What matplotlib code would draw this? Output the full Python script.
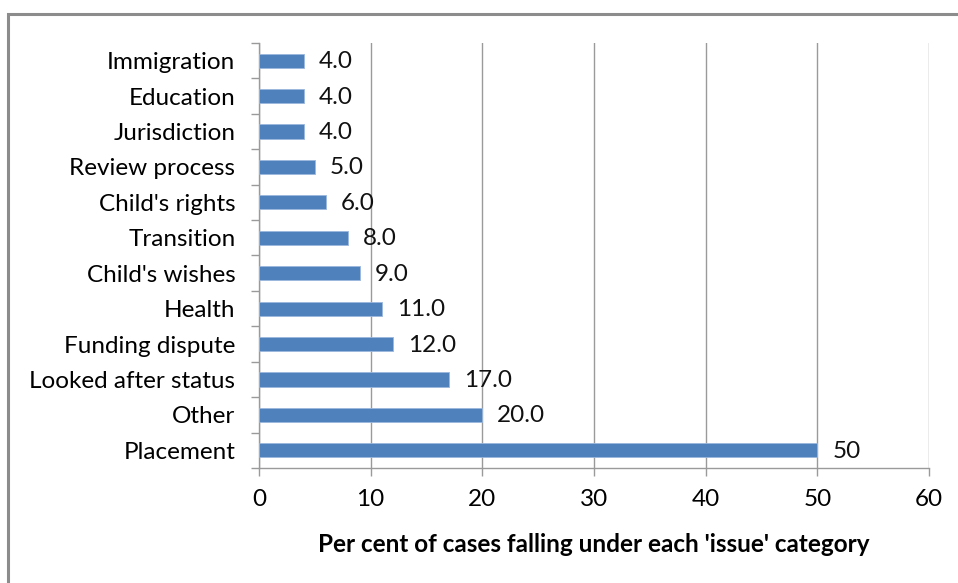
import matplotlib
matplotlib.use("Agg")
import matplotlib.pyplot as plt
from matplotlib.patches import Rectangle
import numpy as np

categories = ["Placement", "Other", "Looked after status", "Funding dispute", "Health",
              "Child's wishes", "Transition", "Child's rights", "Review process",
              "Jurisdiction", "Education", "Immigration"]
values = [50, 20, 17, 12, 11, 9, 8, 6, 5, 4, 4, 4]
value_labels = ["50", "20.0", "17.0", "12.0", "11.0", "9.0", "8.0", "6.0", "5.0", "4.0", "4.0", "4.0"]
xticks = [0, 10, 20, 30, 40, 50, 60]

plt.rcParams['font.family'] = ['Lato', 'DejaVu Sans']
FS = 17.5

W, H = 958, 583
fig = plt.figure(figsize=(W/100, H/100), dpi=100)
fig.patch.set_facecolor("white")

# outer frame
fig.add_artist(Rectangle((8/W, -0.1), 1.2, (H-14)/H + 0.1, transform=fig.transFigure,
                         fill=False, edgecolor="#8c8c8c", linewidth=2.2))

ax = fig.add_axes([259/W, 1-468/H, (929-259)/W, (468-43)/H])
y = np.arange(len(categories))
ax.barh(y, values, height=0.4, color="#4F81BD", edgecolor="#9BB7DC", linewidth=0.6, zorder=3)
for yi, v, lab in zip(y, values, value_labels):
    ax.annotate(lab, (v, yi), xytext=(15, -1), textcoords="offset pixels",
                va="center", ha="left", fontsize=FS, color="#111111")

ax.set_xlim(0, 60)
ax.set_ylim(-0.5, len(categories) - 0.5)
ax.set_xticks(xticks)
ax.set_xticklabels([str(t) for t in xticks], fontsize=FS)
ax.set_yticks(y)
ax.set_yticklabels(categories, fontsize=FS)
ax.set_yticks(np.arange(-0.5, len(categories), 1), minor=True)
ax.tick_params(axis="y", which="major", length=0, pad=17)
ax.tick_params(axis="y", which="minor", length=6, color="#9a9a9a", width=1)
ax.tick_params(axis="x", which="major", length=6, color="#9a9a9a", width=1, pad=9)
ax.grid(axis="x", color="#9a9a9a", linewidth=1, zorder=0)
for s in ["top", "right"]:
    ax.spines[s].set_visible(False)
for s in ["left", "bottom"]:
    ax.spines[s].set_color("#9a9a9a")
    ax.spines[s].set_linewidth(1)
ax.set_xlabel("Per cent of cases falling under each 'issue' category", fontsize=FS,
              fontweight="bold", labelpad=17)

fig.savefig("out.png", dpi=100, facecolor="white")
